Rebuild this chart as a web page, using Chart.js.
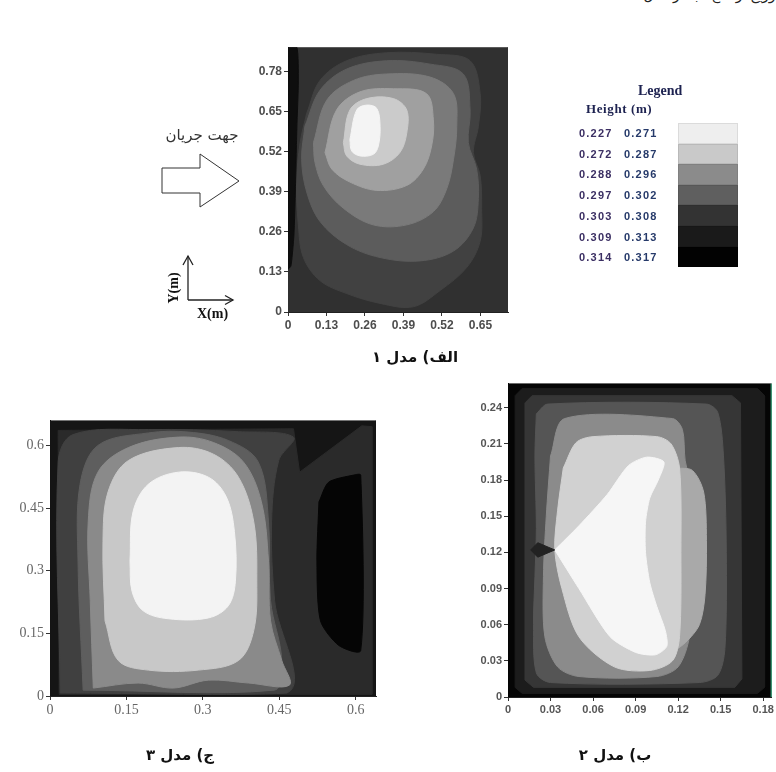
<!DOCTYPE html>
<html><head><meta charset="utf-8">
<script src="https://cdn.jsdelivr.net/npm/chart.js@4/dist/chart.umd.min.js"></script>
<style>
html,body{margin:0;padding:0;background:#fff;}
body{width:776px;height:772px;position:relative;overflow:hidden;font-family:"DejaVu Sans",sans-serif;}
.abs{position:absolute;}
.fa{direction:rtl;unicode-bidi:embed;white-space:nowrap;}
.title{font-weight:bold;font-size:15px;color:#111;text-align:center;}
.lg{font-family:"Liberation Sans",sans-serif;font-size:11px;font-weight:bold;letter-spacing:1.2px;color:#3b2f63;white-space:nowrap;}
.hd{font-family:"Liberation Serif",serif;font-weight:bold;color:#1d2250;white-space:nowrap;}
.ax{font-family:"Liberation Serif",serif;font-weight:bold;font-size:14px;color:#111;white-space:nowrap;}
</style></head>
<body>
<div class="abs fa" style="right:-4px;top:-13px;font-size:14px;color:#222;">توزیع ارتفاع آب در مدل‌ها</div>

<div class="abs" style="left:238px;top:38px;width:280px;height:300px;"><canvas id="c1" width="280" height="300"></canvas></div>
<div class="abs" style="left:455px;top:375px;width:321px;height:345px;"><canvas id="c2" width="321" height="345"></canvas></div>
<div class="abs" style="left:5px;top:410px;width:375px;height:310px;"><canvas id="c3" width="375" height="310"></canvas></div>

<svg class="abs" style="left:0;top:0" width="776" height="772">
  <polygon points="162,168 200,168 200,154 239,181 200,207 200,193 162,193" fill="#fff" stroke="#333" stroke-width="1"/>
  <line x1="188" y1="300" x2="188" y2="256" stroke="#222" stroke-width="1.3"/>
  <polyline points="183,265 188,256 193,265" fill="none" stroke="#222" stroke-width="1.3"/>
  <line x1="188" y1="300" x2="233" y2="300" stroke="#222" stroke-width="1.3"/>
  <polyline points="225,295.5 233,300 225,304.5" fill="none" stroke="#222" stroke-width="1.3"/>
</svg>
<div class="abs fa" style="left:150px;top:126px;width:104px;text-align:center;font-size:15px;color:#333;">جهت جریان</div>
<div class="abs ax" style="left:158px;top:280px;transform:rotate(-90deg);transform-origin:center;">Y(m)</div>
<div class="abs ax" style="left:197px;top:306px;">X(m)</div>

<div class="abs title fa" style="left:360px;top:348px;width:110px;">الف) مدل ۱</div>
<div class="abs title fa" style="left:125px;top:746px;width:110px;">ج) مدل ۳</div>
<div class="abs title fa" style="left:560px;top:746px;width:110px;">ب) مدل ۲</div>

<div id="legend"></div>

<script>
// ---------- Legend ----------
const legendLow  = ['0.227','0.272','0.288','0.297','0.303','0.309','0.314'];
const legendHigh = ['0.271','0.287','0.296','0.302','0.308','0.313','0.317'];
const legendColors = ['#eeeeee','#c9c9c9','#8b8b8b','#5f5f5f','#333333','#1a1a1a','#020202'];

// ---------- Model 1 (الف) ----------
const m1XTicks = [0,0.13,0.26,0.39,0.52,0.65];
const m1XLabels = ['0','0.13','0.26','0.39','0.52','0.65'];
const m1YTicks = [0,0.13,0.26,0.39,0.52,0.65,0.78];
const m1YLabels = ['0','0.13','0.26','0.39','0.52','0.65','0.78'];
const m1Range = [0.743, 0.86];
const m1Frame = [[0,0],[0.743,0],[0.743,0.86],[0,0.86]];
const m1Band1 = [[0.063,0.645],[0.108,0.752],[0.198,0.816],[0.333,0.842],[0.502,0.837],[0.615,0.816],[0.649,0.709],[0.643,0.603],[0.626,0.518],[0.649,0.443],[0.654,0.337],[0.649,0.230],[0.604,0.145],[0.514,0.070],[0.423,0.017],[0.311,0.028],[0.198,0.060],[0.108,0.102],[0.052,0.177],[0.035,0.283],[0.029,0.422],[0.041,0.550]];
const m1Edge  = [[0,0.86],[0.03,0.86],[0.035,0.75],[0.03,0.6],[0.025,0.4],[0.02,0.25],[0.01,0.15],[0,0.14]];
const m1Band2 = [[0.057,0.603],[0.108,0.720],[0.198,0.789],[0.333,0.816],[0.480,0.805],[0.592,0.773],[0.615,0.656],[0.609,0.550],[0.637,0.464],[0.643,0.368],[0.626,0.273],[0.559,0.198],[0.446,0.166],[0.311,0.177],[0.198,0.219],[0.108,0.294],[0.063,0.390],[0.046,0.496]];
const m1Band3 = [[0.086,0.550],[0.131,0.688],[0.221,0.752],[0.333,0.773],[0.480,0.763],[0.559,0.709],[0.570,0.603],[0.559,0.496],[0.536,0.400],[0.491,0.326],[0.401,0.283],[0.288,0.283],[0.187,0.337],[0.119,0.411],[0.091,0.486]];
const m1Band4 = [[0.125,0.518],[0.164,0.656],[0.243,0.715],[0.356,0.725],[0.468,0.709],[0.491,0.624],[0.485,0.539],[0.457,0.464],[0.401,0.411],[0.300,0.395],[0.209,0.422],[0.148,0.464]];
const m1Band5 = [[0.187,0.550],[0.209,0.656],[0.266,0.693],[0.356,0.693],[0.401,0.656],[0.401,0.581],[0.378,0.518],[0.322,0.480],[0.243,0.480],[0.198,0.507]];
const m1Core  = [[0.209,0.560],[0.232,0.656],[0.266,0.672],[0.300,0.661],[0.311,0.603],[0.305,0.539],[0.288,0.512],[0.243,0.507],[0.215,0.523]];

// ---------- Model 2 (ب) ----------
const m2XTicks = [0,0.03,0.06,0.09,0.12,0.15,0.18];
const m2XLabels = ['0','0.03','0.06','0.09','0.12','0.15','0.18'];
const m2YTicks = [0,0.03,0.06,0.09,0.12,0.15,0.18,0.21,0.24];
const m2YLabels = ['0','0.03','0.06','0.09','0.12','0.15','0.18','0.21','0.24'];
const m2Range = [0.186, 0.26];
const m2Frame = [[0,0],[0.186,0],[0.186,0.26],[0,0.26]];
const m2Ring1 = [[0.005,0.25],[0.01,0.256],[0.176,0.256],[0.181,0.25],[0.181,0.008],[0.176,0.003],[0.01,0.003],[0.005,0.008]];
const m2Ring2 = [[0.012,0.244],[0.017,0.25],[0.158,0.25],[0.164,0.244],[0.165,0.015],[0.16,0.008],[0.018,0.008],[0.012,0.014]];
const m2Ring3 = [[0.02,0.235],[0.028,0.243],[0.14,0.243],[0.148,0.236],[0.152,0.2],[0.154,0.12],[0.153,0.04],[0.148,0.018],[0.135,0.012],[0.03,0.012],[0.02,0.02],[0.018,0.06],[0.019,0.1],[0.02,0.14],[0.019,0.2]];
const m2Band4 = [[0.03,0.2],[0.04,0.231],[0.116,0.231],[0.123,0.222],[0.125,0.196],[0.13,0.17],[0.131,0.1],[0.128,0.05],[0.12,0.025],[0.105,0.017],[0.05,0.017],[0.035,0.025],[0.026,0.05],[0.025,0.1],[0.027,0.15]];
const m2Bulge = [[0.118,0.19],[0.13,0.188],[0.138,0.17],[0.14,0.13],[0.139,0.085],[0.135,0.06],[0.125,0.045],[0.117,0.04],[0.116,0.12]];
const m2Band6 = [[0.039,0.19],[0.048,0.211],[0.06,0.216],[0.105,0.216],[0.115,0.21],[0.121,0.19],[0.122,0.12],[0.121,0.05],[0.116,0.03],[0.1,0.022],[0.075,0.025],[0.05,0.05],[0.038,0.09],[0.033,0.122],[0.035,0.155]];
const m2Core  = [[0.033,0.122],[0.05,0.142],[0.07,0.168],[0.085,0.192],[0.098,0.199],[0.11,0.195],[0.106,0.18],[0.1,0.165],[0.097,0.145],[0.097,0.12],[0.1,0.095],[0.105,0.075],[0.111,0.055],[0.112,0.042],[0.104,0.035],[0.09,0.037],[0.072,0.05],[0.05,0.09]];
const m2Notch = [[0.016,0.122],[0.021,0.128],[0.033,0.122],[0.021,0.116]];

// ---------- Model 3 (ج) ----------
const m3XTicks = [0,0.15,0.3,0.45,0.6];
const m3XLabels = ['0','0.15','0.3','0.45','0.6'];
const m3YTicks = [0,0.15,0.3,0.45,0.6];
const m3YLabels = ['0','0.15','0.3','0.45','0.6'];
const m3Range = [0.64, 0.66];
const m3Frame = [[0,0],[0.64,0],[0.64,0.66],[0,0.66]];
const m3Base  = [[0.018,0.004],[0.016,0.636],[0.478,0.64],[0.49,0.536],[0.612,0.647],[0.632,0.645],[0.632,0.004]];
const m3BandA = [[0.02,0.007],[0.016,0.56],[0.045,0.626],[0.193,0.638],[0.37,0.633],[0.478,0.62],[0.449,0.564],[0.435,0.417],[0.441,0.228],[0.465,0.007]];
const m3BandB = [[0.065,0.014],[0.055,0.323],[0.059,0.507],[0.094,0.6],[0.193,0.63],[0.272,0.632],[0.35,0.612],[0.409,0.56],[0.429,0.417],[0.433,0.228],[0.455,0.085],[0.44,0.014]];
const m3BandC = [[0.085,0.019],[0.079,0.228],[0.075,0.417],[0.094,0.536],[0.154,0.595],[0.252,0.62],[0.321,0.607],[0.38,0.56],[0.415,0.465],[0.429,0.323],[0.433,0.18],[0.455,0.085],[0.47,0.026],[0.39,0.031],[0.311,0.038],[0.242,0.019],[0.173,0.031]];
const m3BandD = [[0.108,0.18],[0.104,0.37],[0.114,0.489],[0.154,0.564],[0.252,0.595],[0.321,0.579],[0.37,0.524],[0.4,0.417],[0.406,0.275],[0.4,0.157],[0.37,0.085],[0.291,0.062],[0.193,0.062],[0.134,0.085]];
const m3Core  = [[0.157,0.323],[0.163,0.441],[0.193,0.507],[0.252,0.536],[0.311,0.524],[0.346,0.477],[0.362,0.394],[0.364,0.275],[0.35,0.216],[0.311,0.187],[0.232,0.185],[0.183,0.204],[0.161,0.251]];
const m3Sink  = [[0.528,0.465],[0.547,0.512],[0.596,0.529],[0.61,0.529],[0.61,0.109],[0.567,0.121],[0.531,0.18],[0.524,0.323]];

// ---------- build legend ----------
(function(){
  const L = document.getElementById('legend');
  let h = '<div class="abs hd" style="left:638px;top:83px;font-size:14px;">Legend</div>'+
          '<div class="abs hd" style="left:586px;top:101px;font-size:13px;letter-spacing:0.6px;">Height (m)</div>';
  legendLow.forEach((v,i)=>{
    const y = 127 + i*20.7;
    h += `<div class="abs lg" style="left:579px;top:${y}px;">${v}</div>`;
    h += `<div class="abs lg" style="left:624px;top:${y}px;color:#263a6a;">${legendHigh[i]}</div>`;
    h += `<div class="abs" style="left:678px;top:${123+i*20.6}px;width:60px;height:20.6px;background:${legendColors[i]};box-shadow:inset 0 0 0 1px rgba(0,0,0,0.08);"></div>`;
  });
  L.innerHTML = h;
})();

// ---------- chart helpers ----------
function layer(pts, color, tension){
  return {
    data: pts.concat([pts[0]]).map(p=>({x:p[0], y:p[1]})),
    showLine:true, fill:'shape', backgroundColor:color, borderColor:color, borderWidth:1,
    pointRadius:0, pointHoverRadius:0, tension: tension===undefined?0.35:tension
  };
}
function makeChart(id, layers, range, xt, xl, yt, yl, font, tickColor, yW, xH, pad){
  layers.forEach((l,i)=>{ l.order = layers.length - i; });
  return new Chart(document.getElementById(id), {
    type:'scatter',
    data:{datasets: layers},
    options:{
      responsive:false, animation:false, devicePixelRatio:1, events:[],
      layout:{padding:pad},
      plugins:{legend:{display:false}, tooltip:{enabled:false}},
      scales:{
        x:{type:'linear', min:0, max:range[0],
           afterBuildTicks:s=>{ s.ticks = xt.map(v=>({value:v})); },
           afterFit:s=>{ s.height = xH; },
           ticks:{callback:(v,i)=>xl[i], font:font, color:tickColor, maxRotation:0, autoSkip:false, padding:2},
           grid:{drawOnChartArea:false, tickLength:4, color:'#333'},
           border:{display:true, color:'#222', width:1}},
        y:{type:'linear', min:0, max:range[1],
           afterBuildTicks:s=>{ s.ticks = yt.map(v=>({value:v})); },
           afterFit:s=>{ s.width = yW; },
           ticks:{callback:(v,i)=>yl[i], font:font, color:tickColor, autoSkip:false, padding:2},
           grid:{drawOnChartArea:false, tickLength:4, color:'#333'},
           border:{display:true, color:'#222', width:1}}
      }
    }
  });
}

// Model 1
makeChart('c1', [
  layer(m1Frame,'#303030',0),
  layer(m1Band1,'#414141'),
  layer(m1Edge,'#0e0e0e',0.2),
  layer(m1Band2,'#5c5c5c'),
  layer(m1Band3,'#7a7a7a'),
  layer(m1Band4,'#a0a0a0'),
  layer(m1Band5,'#cbcbcb'),
  layer(m1Core,'#f4f4f4')
], m1Range, m1XTicks, m1XLabels, m1YTicks, m1YLabels,
 {family:'Liberation Sans', size:12, weight:'bold'}, '#4d4d4d', 50, 26, {top:5,right:10,left:0,bottom:0});

// Model 2
const m2Layers = [
  layer(m2Frame,'#050505',0),
  layer(m2Ring1,'#1c1c1c',0),
  layer(m2Ring2,'#363636',0),
  layer(m2Ring3,'#555555',0.3),
  layer(m2Band4,'#8b8b8b',0.3),
  layer(m2Bulge,'#a9a9a9',0.3),
  layer(m2Band6,'#d1d1d1',0.3),
  layer(m2Core,'#f6f6f6',0.25),
  layer(m2Notch,'#222222',0)
];
m2Layers.push({data:[{x:0.186,y:0},{x:0.186,y:0.26}], showLine:true, fill:false, borderColor:'#3fbf8f', borderWidth:2, pointRadius:0, tension:0});
makeChart('c2', m2Layers, m2Range, m2XTicks, m2XLabels, m2YTicks, m2YLabels,
 {family:'Liberation Sans', size:11, weight:'bold'}, '#555555', 53, 23, {top:8,right:4,left:0,bottom:0});

// Model 3
makeChart('c3', [
  layer(m3Frame,'#151515',0),
  layer(m3Base,'#2a2a2a',0),
  layer(m3BandA,'#404040'),
  layer(m3BandB,'#5e5e5e'),
  layer(m3BandC,'#8a8a8a'),
  layer(m3BandD,'#c8c8c8'),
  layer(m3Core,'#f3f3f3'),
  layer(m3Sink,'#050505',0.25)
], m3Range, m3XTicks, m3XLabels, m3YTicks, m3YLabels,
 {family:'Liberation Serif', size:14}, '#666666', 45, 24, {top:8,right:4,left:0,bottom:0});
</script>
</body></html>
